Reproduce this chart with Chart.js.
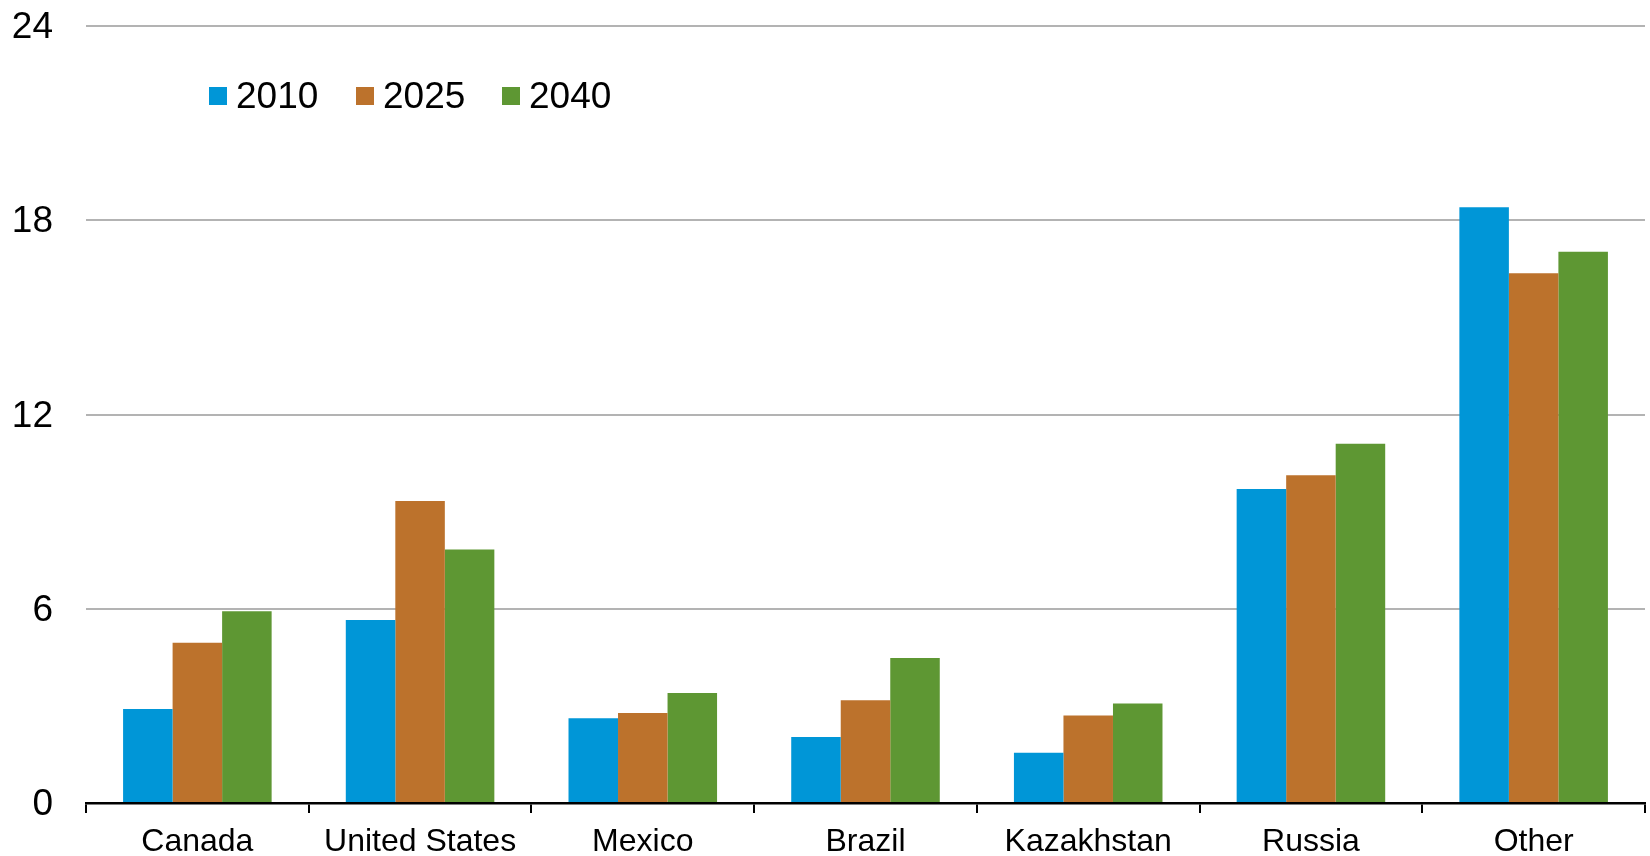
<!DOCTYPE html>
<html>
<head>
<meta charset="utf-8">
<script src="https://cdn.jsdelivr.net/npm/chart.js@4.4.1/dist/chart.umd.min.js"></script>
<style>
  html, body { margin: 0; padding: 0; background: #fff; }
  #wrap { width: 1650px; height: 856px; position: relative; }
</style>
</head>
<body>
<div id="wrap"><canvas id="myChart"></canvas></div>
<script>
const countries = ["Canada", "United States", "Mexico", "Brazil", "Kazakhstan", "Russia", "Other"];
const years = ["2010", "2025", "2040"];
const values2010 = [2.9, 5.65, 2.62, 2.04, 1.55, 9.7, 18.4];
const values2025 = [4.95, 9.33, 2.78, 3.17, 2.7, 10.12, 16.36];
const values2040 = [5.92, 7.83, 3.4, 4.48, 3.07, 11.1, 17.03];
const yTicks = [0, 6, 12, 18, 24];

const colors = ["#0096d7", "#bc722c", "#5e9733"];
const font = "'Liberation Sans', Arial, sans-serif";

// legend drawn inside the plot area, squares + labels from the datasets
const insideLegend = {
  id: "insideLegend",
  afterDraw(chart) {
    const ctx = chart.ctx;
    const xs = [209, 356, 502];
    ctx.save();
    ctx.font = "37px " + font;
    ctx.textBaseline = "alphabetic";
    chart.data.datasets.forEach((ds, i) => {
      ctx.fillStyle = ds.backgroundColor;
      ctx.fillRect(xs[i], 87, 18, 18);
      ctx.fillStyle = "#000";
      ctx.fillText(ds.label, xs[i] + 27, 107.5);
    });
    ctx.restore();
  },
};

const data = {
  labels: countries,
  datasets: [
    { label: years[0], data: values2010, backgroundColor: colors[0] },
    { label: years[1], data: values2025, backgroundColor: colors[1] },
    { label: years[2], data: values2040, backgroundColor: colors[2] },
  ],
};

const config = {
  type: "bar",
  data: data,
  options: {
    responsive: true,
    maintainAspectRatio: false,
    animation: false,
    categoryPercentage: 0.667,
    barPercentage: 1.0,
    layout: { padding: { top: 26, right: 5, left: 0, bottom: 0 } },
    plugins: {
      legend: { display: false },
      tooltip: { enabled: false },
    },
    scales: {
      x: {
        afterFit: (scale) => { scale.height = 53; },
        border: { display: true, color: "#000", width: 2.5 },
        grid: {
          offset: true,
          drawOnChartArea: false,
          drawTicks: true,
          tickLength: 10,
          color: "#000",
          lineWidth: 2,
        },
        ticks: {
          color: "#000",
          padding: 10,
          font: { family: font, size: 32 },
          maxRotation: 0,
          autoSkip: false,
        },
      },
      y: {
        min: 0,
        max: 24,
        afterFit: (scale) => {
          scale.width = 86;
          // the wide tick padding should not push the plot down
          scale.paddingTop = 0;
          scale.paddingBottom = 0;
        },
        afterBuildTicks: (scale) => {
          scale.ticks = yTicks.map((v) => ({ value: v }));
        },
        border: { display: false },
        grid: {
          drawTicks: false,
          lineWidth: 2,
          color: (c) => (c.tick && c.tick.value === 0 ? "rgba(0,0,0,0)" : "#b3b3b3"),
        },
        ticks: {
          color: "#000",
          padding: 33,
          labelOffset: 2,
          font: { family: font, size: 37, lineHeight: 1.2 },
        },
      },
    },
  },
  plugins: [insideLegend],
};

const chartOne = new Chart(document.getElementById("myChart"), config);
</script>
</body>
</html>
